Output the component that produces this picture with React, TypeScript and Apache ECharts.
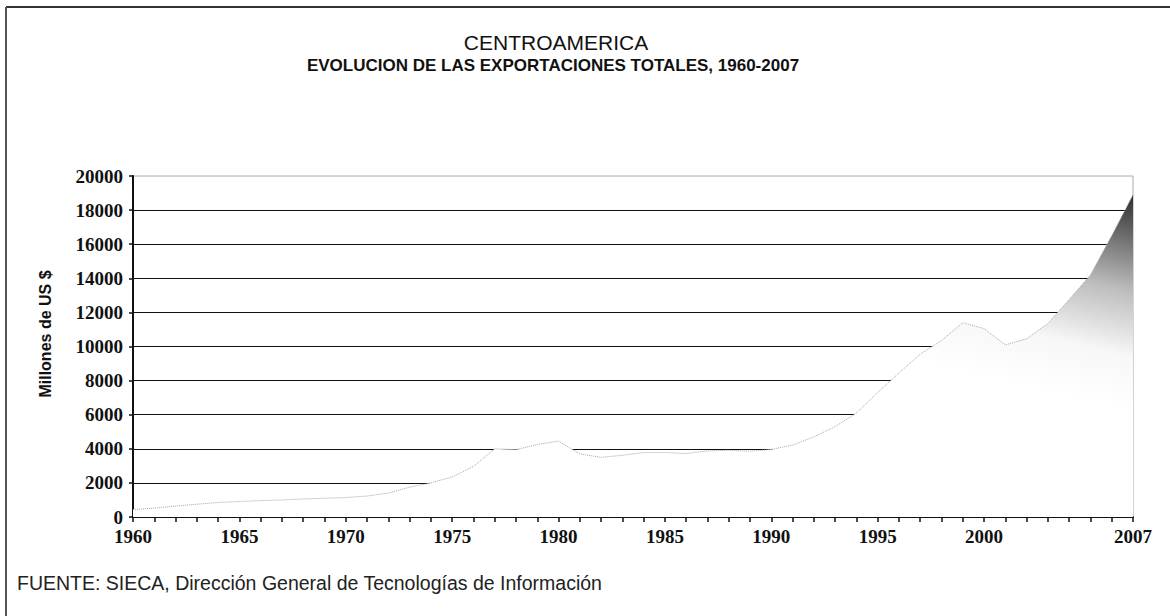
import React, { useEffect, useRef } from "react";
import * as echarts from "echarts";

const YEARS = [
  "1960", "1961", "1962", "1963", "1964", "1965", "1966", "1967", "1968", "1969",
  "1970", "1971", "1972", "1973", "1974", "1975", "1976", "1977", "1978", "1979",
  "1980", "1981", "1982", "1983", "1984", "1985", "1986", "1987", "1988", "1989",
  "1990", "1991", "1992", "1993", "1994", "1995", "1996", "1997", "1998", "1999",
  "2000", "2001", "2002", "2003", "2004", "2005", "2006", "2007",
];

const EXPORTS = [
  430, 520, 640, 750, 850, 910, 960, 1000, 1060, 1100,
  1140, 1230, 1400, 1750, 2000, 2350, 2960, 4000, 3950, 4250,
  4450, 3700, 3500, 3620, 3780, 3780, 3720, 3880, 3910, 3860,
  3960, 4220, 4700, 5300, 6100, 7300, 8450, 9550, 10350, 11400,
  11050, 10100, 10450, 11350, 12750, 14200, 16500, 18900,
];

const LABELED_YEARS = ["1960", "1965", "1970", "1975", "1980", "1985", "1990", "1995", "2000", "2007"];

const TITLE = "CENTROAMERICA";
const SUBTITLE = "EVOLUCION DE LAS EXPORTACIONES TOTALES, 1960-2007";
const Y_NAME = "Millones de US $";
const SOURCE = "FUENTE: SIECA, Dirección General de Tecnologías de Información";

export default function App() {
  const ref = useRef<HTMLDivElement>(null);

  useEffect(() => {
    if (!ref.current) return;
    const chart = echarts.init(ref.current, null, { renderer: "svg" });
    const serifBold = {
      fontFamily: "'Liberation Serif', 'DejaVu Serif', serif",
      fontWeight: "bold" as const,
      fontSize: 19,
      color: "#111",
    };
    chart.setOption({
      animation: false,
      backgroundColor: "#fff",
      grid: {
        left: 133,
        right: 37,
        top: 176,
        bottom: 99,
        show: true,
        borderColor: "#aaa",
        borderWidth: 1,
        backgroundColor: "transparent",
      },
      xAxis: {
        type: "category",
        data: YEARS,
        boundaryGap: false,
        axisLine: { show: true, lineStyle: { color: "#111", width: 2 } },
        axisTick: { show: true, interval: 0, length: 5, lineStyle: { color: "#111", width: 1.5 } },
        axisLabel: {
          ...serifBold,
          margin: 10,
          interval: (_i: number, v: string) => LABELED_YEARS.includes(v),
        },
        splitLine: { show: false },
      },
      yAxis: {
        type: "value",
        min: 0,
        max: 20000,
        interval: 2000,
        axisLine: { show: true, lineStyle: { color: "#111", width: 2 } },
        axisTick: { show: true, length: 4, lineStyle: { color: "#111", width: 1.5 } },
        axisLabel: { ...serifBold, margin: 10, formatter: (v: number) => String(v) },
        splitLine: {
          show: true,
          showMaxLine: false,
          lineStyle: { color: "#111", width: 1.2 },
        },
      },
      series: [
        {
          type: "line",
          data: EXPORTS,
          showSymbol: false,
          smooth: false,
          lineStyle: { color: "#a8a8a8", width: 1, type: "dotted" },
          areaStyle: {
            opacity: 1,
            color: {
              type: "linear",
              global: true,
              x: 1085,
              y: 400,
              x2: 1133,
              y2: 195,
              colorStops: [
                { offset: 0, color: "#ffffff" },
                { offset: 0.25, color: "#f7f7f7" },
                { offset: 0.55, color: "#bdbdbd" },
                { offset: 1, color: "#2e2e2e" },
              ],
            },
          },
          z: 3,
        },
      ],
      graphic: [
        {
          type: "line",
          shape: { x1: 6, y1: 7, x2: 1170, y2: 7 },
          style: { stroke: "#333", lineWidth: 2 },
        },
        {
          type: "line",
          shape: { x1: 6, y1: 7, x2: 6, y2: 616 },
          style: { stroke: "#555", lineWidth: 2 },
        },
        {
          type: "text",
          x: 556,
          y: 42,
          style: {
            text: TITLE,
            textAlign: "center",
            textVerticalAlign: "middle",
            fontFamily: "'Liberation Sans', Arial, sans-serif",
            fontSize: 21,
            fill: "#111",
          },
        },
        {
          type: "text",
          x: 553,
          y: 65,
          style: {
            text: SUBTITLE,
            textAlign: "center",
            textVerticalAlign: "middle",
            fontFamily: "'Liberation Sans Narrow', 'Liberation Sans', Arial, sans-serif",
            fontWeight: "bold",
            fontSize: 17,
            fill: "#111",
          },
        },
        {
          type: "text",
          x: 45,
          y: 334,
          rotation: Math.PI / 2,
          style: {
            text: Y_NAME,
            textAlign: "center",
            textVerticalAlign: "middle",
            fontFamily: "'Liberation Sans', Arial, sans-serif",
            fontWeight: "bold",
            fontSize: 16,
            fill: "#111",
          },
        },
        {
          type: "text",
          x: 17,
          y: 583,
          style: {
            text: SOURCE,
            textAlign: "left",
            textVerticalAlign: "middle",
            fontFamily: "'Liberation Sans', Arial, sans-serif",
            fontSize: 19.5,
            fill: "#222",
          },
        },
      ],
    });
    return () => chart.dispose();
  }, []);

  return (
    <div
      ref={ref}
      style={{ position: "fixed", left: 0, top: 0, width: 1170, height: 616 }}
    />
  );
}
